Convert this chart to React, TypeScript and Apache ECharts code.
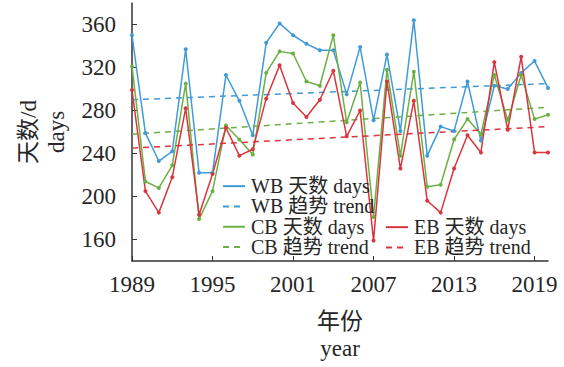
import React, { useEffect, useRef } from "react";
import * as echarts from "echarts";

const years = [
  "1989", "1990", "1991", "1992", "1993", "1994", "1995", "1996", "1997", "1998",
  "1999", "2000", "2001", "2002", "2003", "2004", "2005", "2006", "2007", "2008",
  "2009", "2010", "2011", "2012", "2013", "2014", "2015", "2016", "2017", "2018",
  "2019", "2020",
];
const wbDays = [350, 259, 233, 242, 337, 222, 222, 313, 289, 257, 343, 361, 350, 342, 336, 336, 295, 339, 271, 332, 261, 364, 238, 265, 261, 307, 252, 303, 300, 315, 326, 301];
const cbDays = [321, 214, 208, 229, 305, 179, 205, 266, 253, 239, 315, 335, 333, 307, 303, 350, 269, 306, 181, 318, 238, 316, 209, 211, 253, 272, 258, 313, 271, 313, 272, 276];
const ebDays = [299, 205, 185, 218, 282, 183, 221, 264, 238, 244, 291, 322, 287, 274, 290, 317, 256, 280, 159, 307, 226, 289, 196, 185, 226, 257, 241, 325, 262, 330, 241, 241];
const wbTrend = [290, 305];
const cbTrend = [258, 283];
const ebTrend = [245, 265];
const yTicks = [160, 200, 240, 280, 320, 360];

const BLUE = "#3f9bd8";
const GREEN = "#6bb044";
const RED = "#d9353d";
const FONT = "'Liberation Serif', 'Noto Sans CJK SC', serif";
const TEXT = "#262626";

export default function App() {
  const ref = useRef<HTMLDivElement>(null);
  useEffect(() => {
    document.body.style.margin = "0";
    const chart = echarts.init(ref.current!, null, { renderer: "svg" });
    const first = years[0];
    const last = years[years.length - 1];
    const dataSeries = (name: string, color: string, data: number[]) => ({
      name,
      type: "line",
      data,
      symbol: "circle",
      symbolSize: 4,
      lineStyle: { color, width: 1.5 },
      itemStyle: { color },
    });
    const trendSeries = (name: string, color: string, t: number[]) => ({
      name,
      type: "line",
      data: [[first, t[0]], [last, t[1]]],
      symbol: "none",
      lineStyle: { color, width: 1.5, type: [6, 5] },
      itemStyle: { color },
    });
    const legendCommon = {
      orient: "vertical",
      itemWidth: 22,
      itemHeight: 10,
      itemGap: 0,
      itemStyle: { opacity: 0 },
      textStyle: { fontFamily: FONT, fontSize: 20, color: TEXT, lineHeight: 20.3, padding: [0, 0, 0, 1] },
    };
    chart.setOption({
      animation: false,
      grid: { left: 132, right: 16, top: 3, bottom: 103 },
      legend: [
        {
          ...legendCommon,
          left: 217,
          top: 171,
          data: ["WB 天数 days", "WB 趋势 trend", "CB 天数 days", "CB 趋势 trend"],
        },
        {
          ...legendCommon,
          left: 380,
          top: 212,
          data: ["EB 天数 days", "EB 趋势 trend"],
        },
      ],
      xAxis: {
        type: "category",
        data: years,
        boundaryGap: false,
        name: "年份\nyear",
        nameLocation: "middle",
        nameGap: 47,
        nameTextStyle: { fontFamily: FONT, fontSize: 23, color: TEXT, lineHeight: 27 },
        axisLine: { lineStyle: { color: "#333", width: 1.5 } },
        axisTick: { inside: true, length: 5, interval: 5, lineStyle: { color: "#333" } },
        axisLabel: { interval: 5, margin: 12, fontFamily: FONT, fontSize: 23, color: TEXT },
        splitLine: { show: false },
      },
      yAxis: {
        type: "value",
        min: 140,
        max: 380,
        name: "天数/d\ndays",
        nameLocation: "middle",
        nameGap: 60,
        nameRotate: 90,
        nameTextStyle: { fontFamily: FONT, fontSize: 23, color: TEXT, lineHeight: 28 },
        axisLine: { show: true, lineStyle: { color: "#333", width: 1.5 } },
        axisTick: { show: true, inside: true, length: 5, customValues: yTicks, lineStyle: { color: "#333" } },
        axisLabel: { margin: 16, customValues: yTicks, fontFamily: FONT, fontSize: 23, color: TEXT },
        splitLine: { show: false },
      },
      series: [
        dataSeries("WB 天数 days", BLUE, wbDays),
        trendSeries("WB 趋势 trend", BLUE, wbTrend),
        dataSeries("CB 天数 days", GREEN, cbDays),
        trendSeries("CB 趋势 trend", GREEN, cbTrend),
        dataSeries("EB 天数 days", RED, ebDays),
        trendSeries("EB 趋势 trend", RED, ebTrend),
      ],
    });
    return () => chart.dispose();
  }, []);
  return <div ref={ref} style={{ width: 564, height: 367 }} />;
}
